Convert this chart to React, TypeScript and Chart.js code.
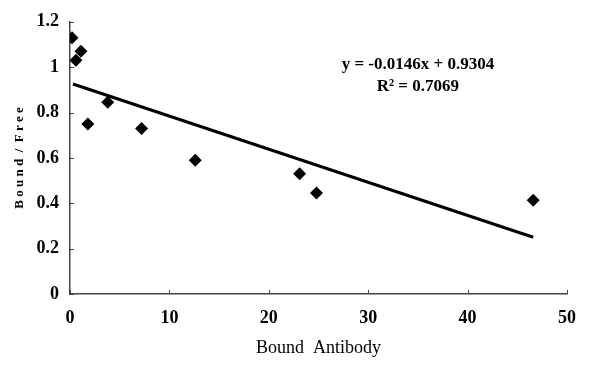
import React, { useEffect, useRef } from "react";
import { Chart, registerables } from "chart.js";

Chart.register(...registerables);

const boundX = [0.2, 0.6, 1.1, 1.8, 3.8, 7.2, 12.6, 23.1, 24.8, 46.6];
const boundFreeY = [1.13, 1.03, 1.07, 0.75, 0.845, 0.73, 0.59, 0.53, 0.445, 0.413];
const trendX = [0.3, 46.6];
const trendY = [0.926, 0.25];
const equationLines = ["y = -0.0146x + 0.9304", "R\u00B2 = 0.7069"];
const xTickValues = [0, 10, 20, 30, 40, 50];
const yTickValues = [0, 0.2, 0.4, 0.6, 0.8, 1, 1.2];

const SERIF = "'Liberation Serif', 'Times New Roman', serif";

export default function App() {
  const ref = useRef<HTMLCanvasElement | null>(null);
  useEffect(() => {
    if (!ref.current) return;
    const innerTicks = {
      id: "innerTicks",
      afterDraw(chart: any) {
        const ctx = chart.ctx;
        const xs = chart.scales.x;
        const ys = chart.scales.y;
        const area = chart.chartArea;
        ctx.save();
        ctx.strokeStyle = "#444";
        ctx.lineWidth = 1;
        ctx.beginPath();
        xTickValues.forEach((v) => {
          const px = Math.round(xs.getPixelForValue(v)) + 0.5;
          ctx.moveTo(px, area.bottom);
          ctx.lineTo(px, area.bottom - 4);
        });
        yTickValues.forEach((v) => {
          const py = Math.round(ys.getPixelForValue(v)) + 0.5;
          ctx.moveTo(area.left, py);
          ctx.lineTo(area.left + 4, py);
        });
        ctx.stroke();
        // equation text
        ctx.fillStyle = "#000";
        ctx.font = `bold 17px ${SERIF}`;
        ctx.textAlign = "center";
        ctx.textBaseline = "middle";
        const cx = xs.getPixelForValue(35);
        const cy = ys.getPixelForValue(1.011);
        ctx.fillText(equationLines[0], cx, cy);
        ctx.fillText(equationLines[1], cx, cy + 22);
        ctx.restore();
      },
    };
    const chart = new Chart(ref.current, {
      type: "scatter",
      data: {
        datasets: [
          {
            type: "line",
            data: trendX.map((x, i) => ({ x, y: trendY[i] })),
            borderColor: "#000",
            borderWidth: 3,
            pointRadius: 0,
            fill: false,
          } as any,
          {
            data: boundX.map((x, i) => ({ x, y: boundFreeY[i] })),
            pointStyle: "rectRot",
            pointRadius: 6.5,
            backgroundColor: "#000",
            borderColor: "#000",
            borderWidth: 0,
          },
        ],
      },
      options: {
        animation: false,
        responsive: false,
        maintainAspectRatio: false,
        layout: { padding: { top: 18, right: 18, left: 0, bottom: 0 } },
        plugins: { legend: { display: false }, tooltip: { enabled: false } },
        scales: {
          x: {
            type: "linear",
            min: 0,
            max: 50,
            afterBuildTicks: (s: any) => {
              s.ticks = xTickValues.map((v) => ({ value: v }));
            },
            afterFit: (s: any) => {
              s.height = 73;
            },
            grid: { display: true, drawOnChartArea: false, drawTicks: false, color: "#444" },
            border: { display: true, color: "#444", width: 1.5 },
            ticks: {
              padding: 14,
              color: "#000",
              font: { family: SERIF, size: 18, weight: "bold" },
              maxRotation: 0,
            },
            title: {
              display: true,
              text: "Bound  Antibody",
              color: "#000",
              font: { family: SERIF, size: 18, weight: "normal" },
              padding: { top: 0, bottom: 8 },
            },
          },
          y: {
            type: "linear",
            min: 0,
            max: 1.2,
            afterBuildTicks: (s: any) => {
              s.ticks = yTickValues.map((v) => ({ value: v }));
            },
            afterFit: (s: any) => {
              s.width = 70;
            },
            grid: { display: true, drawOnChartArea: false, drawTicks: false, color: "#444" },
            border: { display: true, color: "#444", width: 1.5 },
            ticks: {
              padding: 11,
              color: "#000",
              font: { family: SERIF, size: 18, weight: "bold" },
              callback: (v: any) => String(Math.round(Number(v) * 10) / 10),
            },
            title: {
              display: true,
              text: "B o u n d  /  F r e e",
              color: "#000",
              font: { family: SERIF, size: 13, weight: "bold" },
              padding: { top: 12, bottom: 0 },
            },
          },
        },
      },
      plugins: [innerTicks],
    });
    return () => chart.destroy();
  }, []);
  return (
    <div style={{ position: "fixed", left: 0, top: 0, width: 590, height: 367, background: "#fff" }}>
      <canvas ref={ref} width={590} height={367} style={{ width: 590, height: 367 }} />
    </div>
  );
}
